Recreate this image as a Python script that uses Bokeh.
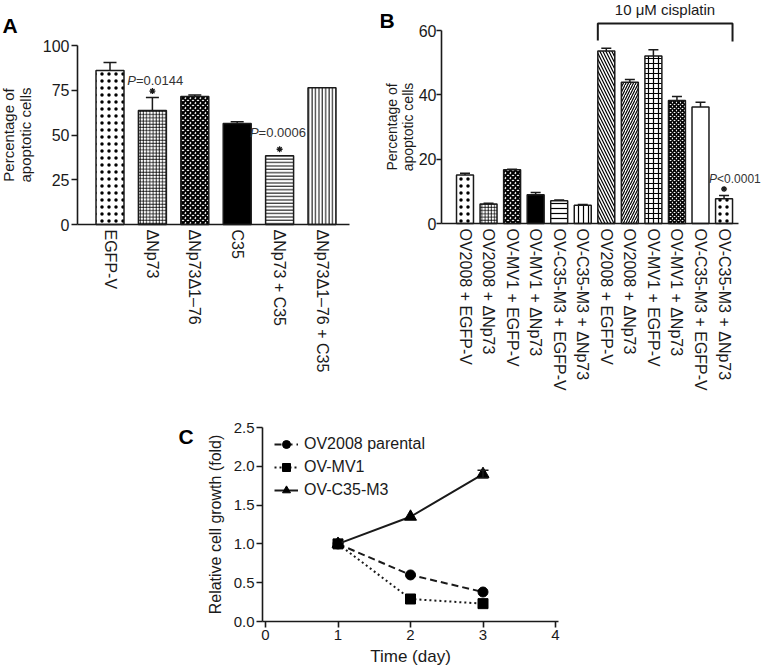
from bokeh.plotting import figure
from bokeh.layouts import column, row
from bokeh.models import FixedTicker, Legend, LegendItem, NumeralTickFormatter
from bokeh.embed import file_html
from bokeh.resources import INLINE
from bokeh.core.properties import value

FONT = "Liberation Sans"
INK = "#1a1a1a"
NOTE = "#333333"

# ---------------- data ----------------
a_labels = ["EGFP-V", "ΔNp73", "ΔNp73Δ1–76", "C35", "ΔNp73 + C35", "ΔNp73Δ1–76 + C35"]
a_values = [86.0, 63.7, 71.5, 56.4, 38.4, 76.4]
a_errors = [4.5, 7.2, 0.8, 1.0, 0.0, 0.0]
a_yticks = [0, 25, 50, 75, 100]
a_pvalues = [(1, "=0.0144"), (4, "=0.0006")]

b_labels = ["OV2008 + EGFP-V", "OV2008 + ΔNp73", "OV-MV1 + EGFP-V", "OV-MV1 + ΔNp73",
            "OV-C35-M3 + EGFP-V", "OV-C35-M3 + ΔNp73",
            "OV2008 + EGFP-V", "OV2008 + ΔNp73", "OV-MV1 + EGFP-V", "OV-MV1 + ΔNp73",
            "OV-C35-M3 + EGFP-V", "OV-C35-M3 + ΔNp73"]
b_values = [15.1, 6.1, 16.7, 8.9, 7.1, 5.7, 53.6, 43.9, 52.1, 38.2, 36.2, 7.7]
b_errors = [0.5, 0.2, 0.2, 0.7, 0.2, 0.2, 0.9, 0.9, 1.9, 1.3, 1.5, 1.0]
b_yticks = [0, 20, 40, 60]
b_group = (6, 11)          # bars under the "10 μM cisplatin" bracket
b_group_label = "10 μM cisplatin"
b_pvalue = (11, "<0.0001")

c_days = [1, 2, 3]
c_ov2008 = [1.0, 0.60, 0.38]
c_mv1 = [1.0, 0.29, 0.23]
c_c35 = [1.0, 1.35, 1.90]
c_c35_err = [0.0, 0.0, 0.05]
c_xticks = [0, 1, 2, 3, 4]
c_yticks = [0.0, 0.5, 1.0, 1.5, 2.0, 2.5]

# bar patterns: (fill, hatch pattern, hatch scale, hatch weight)
a_styles = [("white", ".", 7, 1.6), ("white", "+", 3.2, 0.8), ("white", "x", 5, 2.0),
            ("black", None, 12, 1), ("white", "-", 3.4, 1.0), ("white", "|", 3.4, 1.0)]
b_styles = [("white", ".", 7, 1.6), ("white", "+", 3.2, 0.8), ("white", "x", 5, 2.0),
            ("black", None, 12, 1), ("white", "-", 5, 1.2), ("white", "|", 5, 1.2),
            ("white", "\\", 6, 1.2), ("white", "/", 5, 1.2), ("white", "+", 5, 1.2),
            ("white", "x", 4, 1.6), ("white", None, 12, 1), ("white", ".", 7, 1.6)]

# ---------------- layout geometry (pixels) ----------------
# each panel: canvas size, pixel of data origin, pixels per data unit
GA = dict(W=380, H=400, x0=109.5, dx=42.4, y0=224, dy=1.79)
GB = dict(W=384, H=400, x0=84.5, dx=23.55, y0=223, dy=193 / 60)
GC = dict(W=764, H=268, x0=265, dx=72.5, y0=221, dy=77.6)


def dx_(g, px):
    return (px - g["x0"]) / g["dx"]


def dy_(g, py):
    return (g["y0"] - py) / g["dy"]


def make_fig(g):
    p = figure(width=g["W"], height=g["H"], output_backend="svg", toolbar_location=None,
               x_range=(dx_(g, 0), dx_(g, g["W"])), y_range=(dy_(g, g["H"]), dy_(g, 0)),
               min_border=0, min_border_left=0, min_border_right=0,
               min_border_top=0, min_border_bottom=0)
    p.outline_line_color = None
    p.xgrid.visible = False
    p.ygrid.visible = False
    p.background_fill_color = "white"
    p.border_fill_color = "white"
    return p


def style_axes(p, fs="16px", afs="15px"):
    for ax in p.axis:
        ax.axis_line_width = 1.6
        ax.axis_line_color = INK
        ax.major_tick_line_width = 1.6
        ax.major_tick_line_color = INK
        ax.major_tick_in = 0
        ax.major_tick_out = 6
        ax.minor_tick_line_color = None
        ax.major_label_text_font = FONT
        ax.major_label_text_font_size = fs
        ax.major_label_text_color = INK
        ax.major_label_standoff = 2
        ax.axis_label_text_font = FONT
        ax.axis_label_text_font_size = afs
        ax.axis_label_text_font_style = "normal"
        ax.axis_label_text_color = INK
        ax.axis_label_text_line_height = 1.0


def bars(p, values, errors, styles, width, cap):
    for i, (v, e, st) in enumerate(zip(values, errors, styles)):
        fill, pat, sc, w = st
        kw = dict(fill_color=fill, line_color=INK, line_width=1.5)
        if pat:
            kw.update(hatch_pattern=pat, hatch_scale=sc, hatch_weight=w, hatch_color="black")
        p.vbar(x=[i], top=[v], width=width, bottom=0, **kw)
        if e > 0:
            p.segment(x0=[i], y0=[v], x1=[i], y1=[v + e], line_color=INK, line_width=1.5)
            p.dash(x=[i], y=[v + e], size=cap, line_color=INK, line_width=1.5)


def letter(p, g, txt, px, py):
    p.text(x=[dx_(g, px)], y=[dy_(g, py)], text=[txt], text_font=value(FONT),
           text_font_size="21px", text_font_style="bold", text_color="black",
           text_align="left", text_baseline="alphabetic")


def pnote(p, x, y, txt, xoff, yoff, fs="13px"):
    p.text(x=[x], y=[y], text=["P"], text_font=value(FONT), text_font_size=fs,
           text_font_style="italic", text_color=NOTE, text_align="right",
           text_baseline="middle", x_offset=xoff, y_offset=yoff)
    p.text(x=[x], y=[y], text=[txt], text_font=value(FONT), text_font_size=fs,
           text_color=NOTE, text_align="left", text_baseline="middle",
           x_offset=xoff, y_offset=yoff)


def star(p, g, x, y):
    # significance asterisk, drawn a few pixels above the bar / error cap
    p.scatter(x=[x], y=[y + 6.5 / g["dy"]], marker="asterisk", size=6,
              line_color=INK, line_width=1.3)


# ---------------- panel A ----------------
pA = make_fig(GA)
bars(pA, a_values, a_errors, a_styles, 0.66, 13)
for (idx, t), (xo, yo) in zip(a_pvalues, [(-16.5, -17), (-21, -23.5)]):
    top = a_values[idx] + a_errors[idx]
    pnote(pA, idx, top, t, xo, yo)
    star(pA, GA, idx, top)
letter(pA, GA, "A", 2, 25)
pA.yaxis.ticker = FixedTicker(ticks=a_yticks)
pA.xaxis.ticker = FixedTicker(ticks=list(range(len(a_labels))))
pA.xaxis.major_label_overrides = {i: l for i, l in enumerate(a_labels)}
pA.yaxis.axis_label = "Percentage of\napoptotic cells"
style_axes(pA)
pA.yaxis.fixed_location = dx_(GA, 77)
pA.xaxis.fixed_location = 0
pA.yaxis.bounds = (0, 100)
pA.xaxis.bounds = (dx_(GA, 77), dx_(GA, 349))
pA.xaxis.major_label_orientation = "vertical"
pA.xaxis.major_tick_line_color = None
pA.xaxis.major_tick_out = 3
pA.yaxis.axis_label_standoff = 6

# ---------------- panel B ----------------
pB = make_fig(GB)
bw = 0.72
bars(pB, b_values, b_errors, b_styles, bw, 10)
g0, g1 = b_group
bx = [g0 - bw / 2, g0 - bw / 2, g1 + bw / 2, g1 + bw / 2]
by = [dy_(GB, 40), dy_(GB, 23), dy_(GB, 23), dy_(GB, 41)]
pB.line(x=bx, y=by, line_color=INK, line_width=2)
pB.text(x=[dx_(GB, 284.5)], y=[dy_(GB, 9)], text=[b_group_label], text_font=value(FONT),
        text_font_size="15px", text_color=INK, text_align="center", text_baseline="middle")
pi_, pt = b_pvalue
ptop = b_values[pi_] + b_errors[pi_]
pnote(pB, pi_, ptop, pt, -7, -17, fs="12px")
star(pB, GB, pi_, ptop)
letter(pB, GB, "B", -1, 20)
pB.yaxis.ticker = FixedTicker(ticks=b_yticks)
pB.xaxis.ticker = FixedTicker(ticks=list(range(len(b_labels))))
pB.xaxis.major_label_overrides = {i: l for i, l in enumerate(b_labels)}
pB.yaxis.axis_label = "Percentage of\napoptotic cells"
style_axes(pB, afs="14px")
pB.yaxis.fixed_location = dx_(GB, 61)
pB.xaxis.fixed_location = 0
pB.yaxis.bounds = (0, 60)
pB.xaxis.bounds = (dx_(GB, 61), dx_(GB, 358))
pB.xaxis.major_label_orientation = "vertical"
pB.xaxis.major_tick_line_color = None
pB.xaxis.major_tick_out = 3
pB.yaxis.major_tick_out = 5
pB.yaxis.major_label_standoff = 0
pB.yaxis.axis_label_standoff = 0

# ---------------- panel C ----------------
pC = make_fig(GC)
l1 = pC.line(c_days, c_ov2008, line_color=INK, line_width=2, line_dash="7 4")
m1 = pC.scatter(c_days, c_ov2008, marker="circle", size=10, fill_color="black", line_color="black")
l2 = pC.line(c_days, c_mv1, line_color=INK, line_width=2, line_dash="2 3")
m2 = pC.scatter(c_days, c_mv1, marker="square", size=10, fill_color="black", line_color="black")
l3 = pC.line(c_days, c_c35, line_color=INK, line_width=2)
m3 = pC.scatter(c_days, c_c35, marker="triangle", size=12, fill_color="black", line_color="black")
for d, v, e in zip(c_days, c_c35, c_c35_err):
    if e > 0:
        pC.segment(x0=[d], y0=[v - e], x1=[d], y1=[v + e], line_color=INK, line_width=1.5)
        pC.dash(x=[d, d], y=[v - e, v + e], size=11, line_color=INK, line_width=1.5)
leg = Legend(items=[LegendItem(label="OV2008 parental", renderers=[l1, m1]),
                    LegendItem(label="OV-MV1", renderers=[l2, m2]),
                    LegendItem(label="OV-C35-M3", renderers=[l3, m3])],
             location=(274, 268 - 26 - 74), border_line_color=None, background_fill_alpha=0,
             label_text_font=FONT, label_text_font_size="16px", label_text_color=INK,
             glyph_width=24, glyph_height=20, spacing=3, padding=4, margin=0, label_standoff=6)
pC.add_layout(leg)
letter(pC, GC, "C", 178, 36)
pC.xaxis.ticker = FixedTicker(ticks=c_xticks)
pC.yaxis.ticker = FixedTicker(ticks=c_yticks)
pC.yaxis.formatter = NumeralTickFormatter(format="0.0")
pC.xaxis.axis_label = "Time (day)"
pC.yaxis.axis_label = "Relative cell growth (fold)"
style_axes(pC, fs="15px", afs="16px")
pC.yaxis.fixed_location = dx_(GC, 262)
pC.xaxis.fixed_location = 0
pC.yaxis.bounds = (0, 2.5)
pC.xaxis.bounds = (dx_(GC, 262), dx_(GC, 558))
pC.xaxis.axis_label_text_font_size = "17px"
pC.xaxis.axis_label_standoff = 4
pC.yaxis.axis_label_standoff = 7

layout = column(row(pA, pB), pC)
open("out.html", "w").write(file_html(layout, INLINE))
